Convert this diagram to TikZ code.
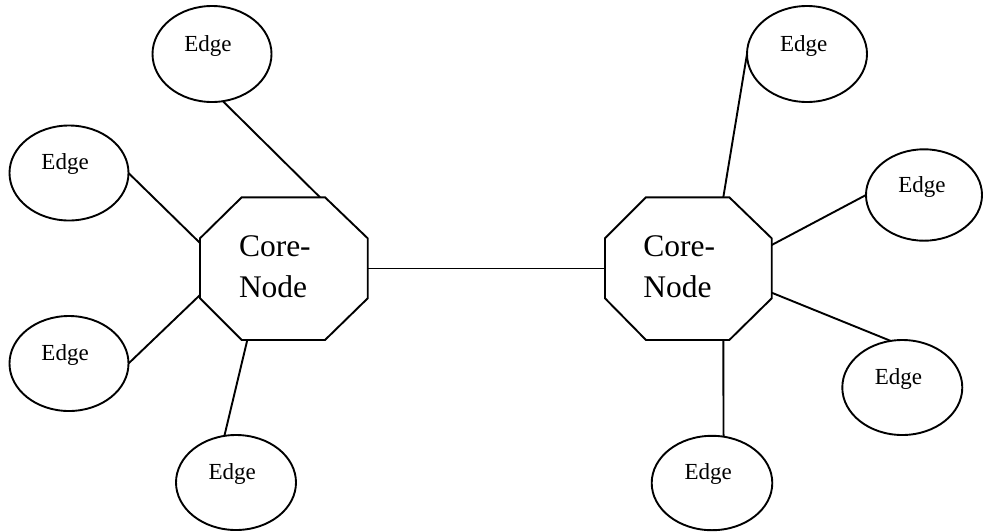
\documentclass[tikz,border=0pt]{standalone}
\usepackage{fontspec}
\setmainfont{Liberation Serif}
\usetikzlibrary{shapes.geometric,calc}
\tikzset{
  ln/.style={draw=black,line width=1.9pt,line join=miter},
  edgeell/.style={ellipse,draw=black,line width=1.9pt,inner sep=0pt,outer sep=0pt,minimum width=120pt,minimum height=95pt},
  lbl/.style={inner sep=0pt,outer sep=0pt,anchor=base west,font=\fontsize{23}{27}\selectfont},
  corelbl/.style={inner sep=0pt,outer sep=0pt,anchor=base west,font=\fontsize{31.5}{40.6}\selectfont}
}
\begin{document}
\begin{tikzpicture}[x=1pt,y=-1pt]
\useasboundingbox (0,0) rectangle (983,531);

% left octagon
\coordinate (L1) at (241.7,197.3);
\coordinate (L2) at (325,197.3);
\coordinate (L3) at (367.7,238.3);
\coordinate (L4) at (367.7,298.3);
\coordinate (L5) at (325,340);
\coordinate (L6) at (241.7,340);
\coordinate (L7) at (200,298.3);
\coordinate (L8) at (200,238.3);
\draw[ln] (L1)--(L2)--(L3)--(L4)--(L5)--(L6)--(L7)--(L8)--cycle;
\node[corelbl] (Ltext) at (239,256.7) {\begin{tabular}[t]{@{}l@{}}Core-\\Node\end{tabular}};

% right octagon
\coordinate (R1) at (646,197.3);
\coordinate (R2) at (729.3,197.3);
\coordinate (R3) at (771.7,238.3);
\coordinate (R4) at (771.7,298.3);
\coordinate (R5) at (729.3,340);
\coordinate (R6) at (646,340);
\coordinate (R7) at (605,298.3);
\coordinate (R8) at (605,238.3);
\draw[ln] (R1)--(R2)--(R3)--(R4)--(R5)--(R6)--(R7)--(R8)--cycle;
\node[corelbl] (Rtext) at (643.3,256.7) {\begin{tabular}[t]{@{}l@{}}Core-\\Node\end{tabular}};

% connector end points on the octagons
\coordinate (La) at (320,197.3);
\coordinate (Lb) at (200,243);
\coordinate (Lc) at (200,295);
\coordinate (Ld) at (247.3,340);
\coordinate (Le) at (367.7,268.5);
\coordinate (Ra) at (605,268.5);
\coordinate (Rb) at (723.3,197.3);
\coordinate (Rc) at (771.7,245);
\coordinate (Rd) at (771.7,292.7);
\coordinate (Re) at (723.3,340);

% edge ellipses
\node[edgeell,minimum width=119pt,minimum height=96pt] (e1) at (212,54) {};
\node[edgeell,minimum width=119pt] (e2) at (69,173) {};
\node[edgeell,minimum width=119pt] (e3) at (69,363.5) {};
\node[edgeell] (e4) at (236,482.5) {};
\node[edgeell,minimum height=96pt] (e5) at (807,54) {};
\node[edgeell,minimum width=116pt,minimum height=91.4pt] (e6) at (924,195) {};
\node[edgeell] (e7) at (902.3,387.5) {};
\node[edgeell,minimum width=120.6pt,minimum height=94.4pt] (e8) at (712,483) {};

\node[lbl] (t1) at ([shift={(-27.7,-3)}]e1.center) {Edge};
\node[lbl] (t2) at ([shift={(-27.5,-3.5)}]e2.center) {Edge};
\node[lbl] (t3) at ([shift={(-27.5,-3.5)}]e3.center) {Edge};
\node[lbl] (t4) at ([shift={(-27.5,-3.5)}]e4.center) {Edge};
\node[lbl] (t5) at ([shift={(-27,-3)}]e5.center) {Edge};
\node[lbl] (t6) at ([shift={(-25.7,-3)}]e6.center) {Edge};
\node[lbl] (t7) at ([shift={(-27.5,-3.5)}]e7.center) {Edge};
\node[lbl] (t8) at ([shift={(-27.5,-3.5)}]e8.center) {Edge};

% connectors
\draw[ln] (e1.-77) -- (La);
\draw[ln] (e2.east) -- (Lb);
\draw[ln] (e3.east) -- (Lc);
\draw[ln] (e4.104) -- (Ld);
\draw[ln] (Le) -- (Ra);
\draw[ln] (Rb) -- (e5.west);
\draw[ln] (Rc) -- (e6.west);
\draw[ln] (Rd) -- (e7.104.5);
\draw[ln] (Re) -- (e8.76.3);
\end{tikzpicture}
\end{document}
